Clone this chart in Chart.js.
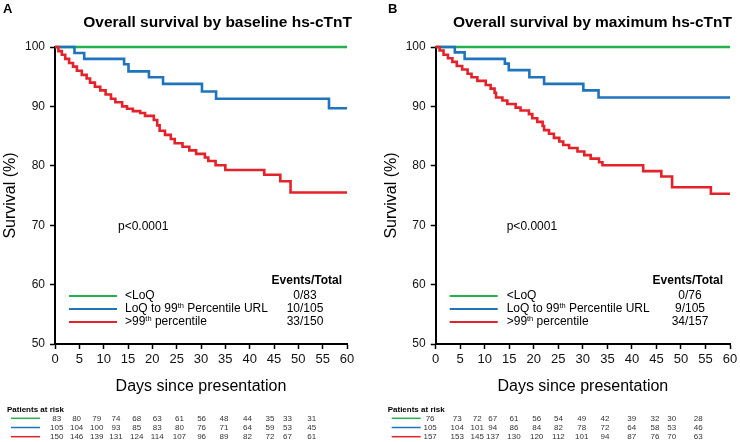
<!DOCTYPE html>
<html><head><meta charset="utf-8">
<script src="https://cdn.jsdelivr.net/npm/chart.js@4.4.1/dist/chart.umd.min.js"></script>
<style>
html,body{margin:0;padding:0;background:#fff;}
#wrap{position:relative;width:740px;height:442px;overflow:hidden;}
canvas{position:absolute;top:0;}
</style>
</head><body>
<div id="wrap">
<canvas id="cA" width="370" height="442" style="left:0;width:370px;height:442px"></canvas>
<canvas id="cB" width="370" height="442" style="left:370px;width:370px;height:442px"></canvas>
</div>
<script>
// ---------- data ----------
const xTickStep = 5;           // days
const xMin = 0, xMax = 60;
const yMin = 50, yMax = 100, yTickStep = 10;
const xAxisTitle = 'Days since presentation';
const yAxisTitle = 'Survival (%)';
const pValueText = 'p<0.0001';
const eventsHeader = 'Events/Total';
const riskHeader = 'Patients at risk';
const groupLabels = ['<LoQ', 'LoQ to 99th Percentile URL', '>99th percentile'];

// Panel A: baseline hs-cTnT  ([day, survival %] at each step)
const titleA = 'Overall survival by baseline hs-cTnT';
const greenA = [[0,100],[60,100]];
const blueA = [[0,100],[4.0,99.0],[6.0,98.0],[14.2,97.1],[15.1,95.9],[19.3,94.9],[22.2,93.8],[30.2,92.5],[33.1,91.3],[56.3,89.7],[60,89.7]];
const redA = [[0,100],[0.7,99.3],[1.4,98.7],[2.1,98.0],[2.9,97.3],[3.7,96.7],[4.5,96.0],[5.5,95.3],[6.5,94.7],[7.2,94.0],[8.2,93.3],[9.3,92.7],[10.4,92.0],[11.5,91.3],[12.4,90.7],[13.8,90.0],[14.8,89.6],[16.0,89.2],[17.5,88.9],[18.5,88.4],[20.3,87.7],[21.0,86.8],[21.5,85.9],[22.6,85.2],[23.8,84.5],[24.6,83.8],[26.2,83.2],[27.6,82.6],[29.0,82.0],[30.8,81.4],[31.5,80.8],[33.0,80.1],[35.0,79.3],[43.0,78.5],[46.3,77.4],[48.4,75.5],[60,75.5]];
const eventsA = ['0/83','10/105','33/150'];
const riskGreenA = [83,80,79,74,68,63,61,56,48,44,35,33,31];
const riskBlueA  = [105,104,100,93,85,83,80,76,71,64,59,53,45];
const riskRedA   = [150,146,139,131,124,114,107,96,89,82,72,67,61];

// Panel B: maximum hs-cTnT
const titleB = 'Overall survival by maximum hs-cTnT';
const greenB = [[0,100],[60,100]];
const blueB = [[0,100],[3.9,99.1],[5.9,98.0],[14.1,97.2],[14.9,96.1],[19.1,94.9],[22.1,93.8],[30.1,92.7],[33.2,91.5],[60,91.5]];
const redB = [[0,100],[0.8,99.4],[1.6,98.7],[2.5,98.1],[3.4,97.5],[4.3,96.8],[5.4,96.2],[6.5,95.5],[7.3,94.9],[8.5,94.3],[10.2,93.6],[11.2,93.0],[12.0,92.3],[12.3,91.5],[13.6,91.0],[14.6,90.4],[16.3,89.8],[17.3,89.3],[19.0,88.7],[19.7,88.0],[20.7,87.4],[21.8,86.7],[22.1,86.0],[23.1,85.4],[24.1,84.7],[25.2,84.1],[26.0,83.5],[27.2,83.0],[28.9,82.4],[30.3,81.8],[31.6,81.2],[33.3,80.6],[34.0,80.1],[42.3,79.1],[46.0,78.2],[48.2,76.4],[56.1,75.3],[60,75.3]];
const eventsB = ['0/76','9/105','34/157'];
const riskGreenB = [76,73,72,67,61,56,54,49,42,39,32,30,28];
const riskBlueB  = [105,104,101,94,86,84,82,78,72,64,58,53,46];
const riskRedB   = [157,153,145,137,130,120,112,101,94,87,76,70,63];

// ---------- styles / layout ----------
const COLORS = ['#22b14c', '#1f74bb', '#e3222a'];
const FONT = '"Liberation Sans", Arial, Helvetica, sans-serif';

function drawRich(ctx, text, x, y, size, align) {
  // renders "th" after digits as superscript
  const parts = text.split(/(?<=\d)(th)/);
  const segs = parts.map((p, i) => ({t: p, sup: (i % 2 === 1)})).filter(s => s.t.length);
  let total = 0;
  segs.forEach(s => { ctx.font = (s.sup ? size*0.62 : size) + 'px ' + FONT; s.w = ctx.measureText(s.t).width; total += s.w; });
  let cx = align === 'center' ? x - total/2 : (align === 'right' ? x - total : x);
  ctx.textAlign = 'left';
  ctx.textBaseline = 'middle';
  segs.forEach(s => {
    ctx.font = (s.sup ? size*0.62 : size) + 'px ' + FONT;
    ctx.fillText(s.t, cx, s.sup ? y - size*0.28 : y);
    cx += s.w;
  });
}

const panelPlugin = {
  id: 'panel',
  afterDraw(chart, args, o) {
    const ctx = chart.ctx, ca = chart.chartArea;
    ctx.save();
    ctx.fillStyle = '#000';
    // panel letter
    ctx.font = 'bold 13px ' + FONT;
    ctx.textAlign = 'left'; ctx.textBaseline = 'middle';
    ctx.fillText(o.letter, o.letterX, 9);
    // title
    ctx.font = 'bold 15.5px ' + FONT;
    ctx.textAlign = 'right';
    ctx.fillText(o.title, ca.right + o.titleDx, 23);
    // p-value
    ctx.font = '12px ' + FONT;
    ctx.textAlign = 'left';
    ctx.fillText(pValueText, ca.left + o.pDx, 227);
    // legend
    ctx.font = 'bold 12px ' + FONT;
    ctx.textAlign = 'right';
    ctx.fillText(eventsHeader, ca.right + o.evHeadDx, 281);
    const rowsY = [296, 309, 322];
    groupLabels.forEach((lab, i) => {
      ctx.strokeStyle = COLORS[i];
      ctx.lineWidth = 2;
      ctx.beginPath();
      ctx.moveTo(ca.left + 14, rowsY[i]);
      ctx.lineTo(ca.left + 62, rowsY[i]);
      ctx.stroke();
      ctx.fillStyle = '#000';
      drawRich(ctx, lab, ca.left + o.labDx, rowsY[i], 12, 'left');
      ctx.font = '12px ' + FONT;
      ctx.textAlign = 'center';
      ctx.fillText(o.events[i], ca.right + o.evDx, rowsY[i]);
    });
    // risk table
    ctx.font = 'bold 8px ' + FONT;
    ctx.textAlign = 'left';
    ctx.fillText(riskHeader, ca.left - 48, 410);
    const riskY = [418.3, 427.5, 436.7];
    const w = ca.right - ca.left;
    o.risk.forEach((row, i) => {
      ctx.strokeStyle = COLORS[i];
      ctx.lineWidth = 1.5;
      ctx.beginPath();
      ctx.moveTo(ca.left - 44, riskY[i]);
      ctx.lineTo(ca.left - 15, riskY[i]);
      ctx.stroke();
      ctx.font = '8px ' + FONT;
      ctx.textAlign = 'center';
      ctx.fillStyle = '#333';
      row.forEach((v, j) => ctx.fillText(String(v), ca.left + o.cols[j] * w, riskY[i]));
    });
    ctx.restore();
  }
};

function ds(arr, color) {
  return {
    data: arr.map(p => ({x: p[0], y: p[1]})),
    borderColor: color, backgroundColor: color,
    borderWidth: 2.6, pointRadius: 0, showLine: true, stepped: true,
    clip: 4, fill: false
  };
}

function makeChart(id, green, blue, red, pcfg) {
  return new Chart(document.getElementById(id), {
    type: 'scatter',
    data: { datasets: [ds(red, COLORS[2]), ds(blue, COLORS[1]), ds(green, COLORS[0])] },
    plugins: [panelPlugin],
    options: {
      responsive: false, animation: false, devicePixelRatio: 1,
      layout: { padding: pcfg.padding },
      plugins: { legend: {display: false}, tooltip: {enabled: false}, panel: pcfg },
      scales: {
        x: {
          type: 'linear', min: xMin, max: xMax,
          ticks: { stepSize: xTickStep, color: '#111', font: {family: FONT, size: 13}, padding: 3, maxRotation: 0, autoSkip: false },
          grid: { display: true, drawOnChartArea: false, drawTicks: true, tickLength: 5, tickColor: '#000', tickWidth: 1.5 },
          border: { display: true, color: '#000', width: 2 },
          title: { display: true, text: xAxisTitle, color: '#000', font: {family: FONT, size: 16}, padding: {top: 0, bottom: 46} },
          afterFit(s) { s.height = 98; s.paddingLeft = 0; s.paddingRight = 0; }
        },
        y: {
          type: 'linear', min: yMin, max: yMax,
          ticks: { stepSize: yTickStep, color: '#111', font: {family: FONT, size: 12}, padding: 5 },
          grid: { display: true, drawOnChartArea: false, drawTicks: true, tickLength: 5, tickColor: '#000', tickWidth: 1.5 },
          border: { display: true, color: '#000', width: 2 },
          title: { display: true, text: yAxisTitle, color: '#000', font: {family: FONT, size: 16}, padding: {top: 1, bottom: 0} },
          afterFit(s) { s.width = pcfg.yWidth; s.paddingTop = 0; s.paddingBottom = 0; }
        }
      }
    }
  });
}

makeChart('cA', greenA, blueA, redA, {
  letter: 'A', letterX: 3, title: titleA, titleDx: 5, pDx: 63, labDx: 70,
  evHeadDx: -5, evDx: -42, events: eventsA,
  risk: [riskGreenA, riskBlueA, riskRedA],
  cols: [0.006,0.074,0.143,0.209,0.280,0.350,0.426,0.502,0.579,0.659,0.736,0.796,0.879],
  padding: {left: 0, right: 23, top: 47, bottom: 0}, yWidth: 55
});
makeChart('cB', greenB, blueB, redB, {
  letter: 'B', letterX: 18, title: titleB, titleDx: 2, pDx: 71, labDx: 71,
  evHeadDx: -7, evDx: -40, events: eventsB,
  risk: [riskGreenB, riskBlueB, riskRedB],
  cols: [-0.019,0.073,0.141,0.194,0.266,0.343,0.417,0.496,0.575,0.666,0.745,0.802,0.892],
  padding: {left: 11, right: 10, top: 47, bottom: 0}, yWidth: 54.7
});
</script>
</body></html>
